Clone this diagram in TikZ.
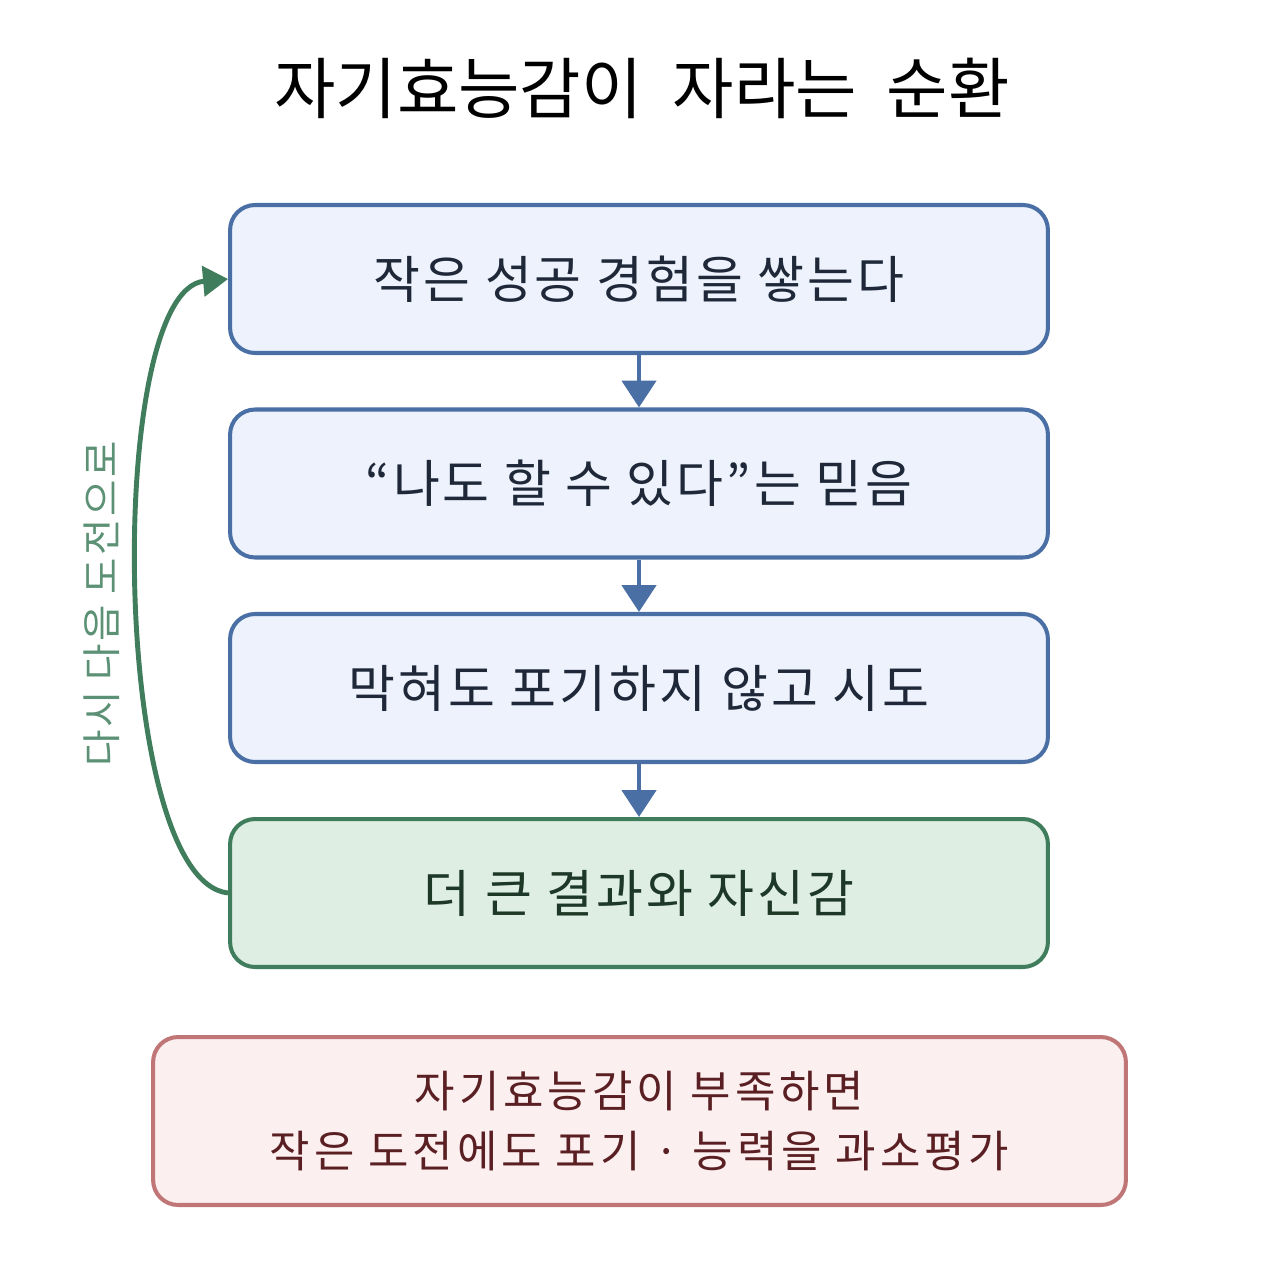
\documentclass[tikz,border=0pt]{standalone}
\usepackage{fontspec}
\setmainfont[LetterSpace=6]{Noto Sans CJK KR}
\newfontfamily\titlefont{Noto Sans CJK KR}
\newfontfamily\widefont[LetterSpace=9]{Noto Sans CJK KR}
\usepackage{tikz}
\usetikzlibrary{arrows.meta}

\definecolor{StepLine}{HTML}{4A6FA5}
\definecolor{StepFill}{HTML}{EDF2FC}
\definecolor{StepText}{HTML}{1E2838}
\definecolor{GainLine}{HTML}{3F7D5C}
\definecolor{GainFill}{HTML}{DEEEE3}
\definecolor{GainText}{HTML}{1D3826}
\definecolor{WarnLine}{HTML}{C07676}
\definecolor{WarnFill}{HTML}{FCEFEF}
\definecolor{WarnText}{HTML}{5A1F22}

\tikzset{
  stepbox/.style={draw=StepLine, fill=StepFill, text=StepText, line width=2.3pt,
    rounded corners=0.5cm, minimum width=16.36cm, minimum height=2.96cm,
    font=\fontsize{29}{34}\selectfont},
  gainbox/.style={stepbox, draw=GainLine, fill=GainFill, text=GainText},
  warnbox/.style={draw=WarnLine, fill=WarnFill, text=WarnText, line width=2.3pt,
    rounded corners=0.5cm, minimum width=19.46cm, minimum height=3.36cm,
    align=center, font=\widefont\fontsize{25}{34}\selectfont},
  flow/.style={StepLine, line width=2.8pt, -{Triangle[length=0.54cm, width=0.68cm]}},
}

\begin{document}
\begin{tikzpicture}[x=0.02cm, y=-0.02cm]
  \useasboundingbox (0,0) rectangle (1280,1280);

  \node[font=\titlefont\fontsize{38}{44}\selectfont] (title) at (642,88) {자기효능감이\ \ 자라는\ \ 순환};

  \node[stepbox] (s1) at (639,279) {작은\ 성공\ 경험을\ 쌓는다};
  \node[stepbox] (s2) at (639,483.5) {“나도\ 할\ 수\ 있다”는\ 믿음};
  \node[stepbox] (s3) at (639,688) {막혀도\ 포기하지\ 않고\ 시도};
  \node[gainbox] (s4) at (639,893) {더\ 큰\ 결과와\ 자신감};

  \draw[flow] (s1) -- (s2);
  \draw[flow] (s2) -- (s3);
  \draw[flow] (s3) -- (s4);

  % back to the start
  \draw[GainLine, line width=2.8pt, -{Triangle[length=0.5cm, width=0.6cm]}]
    (s4.west) .. controls (110,880) and (105,290) .. (s1.west);
  \node[rotate=90, text=GainLine!85!white, font=\fontsize{22.5}{26}\selectfont] (again) at (102,604) {다시\ 다음\ 도전으로};

  \node[warnbox] (warn) at (639.5,1121) {자기효능감이 부족하면\\작은 도전에도 포기 · 능력을 과소평가};
\end{tikzpicture}
\end{document}
